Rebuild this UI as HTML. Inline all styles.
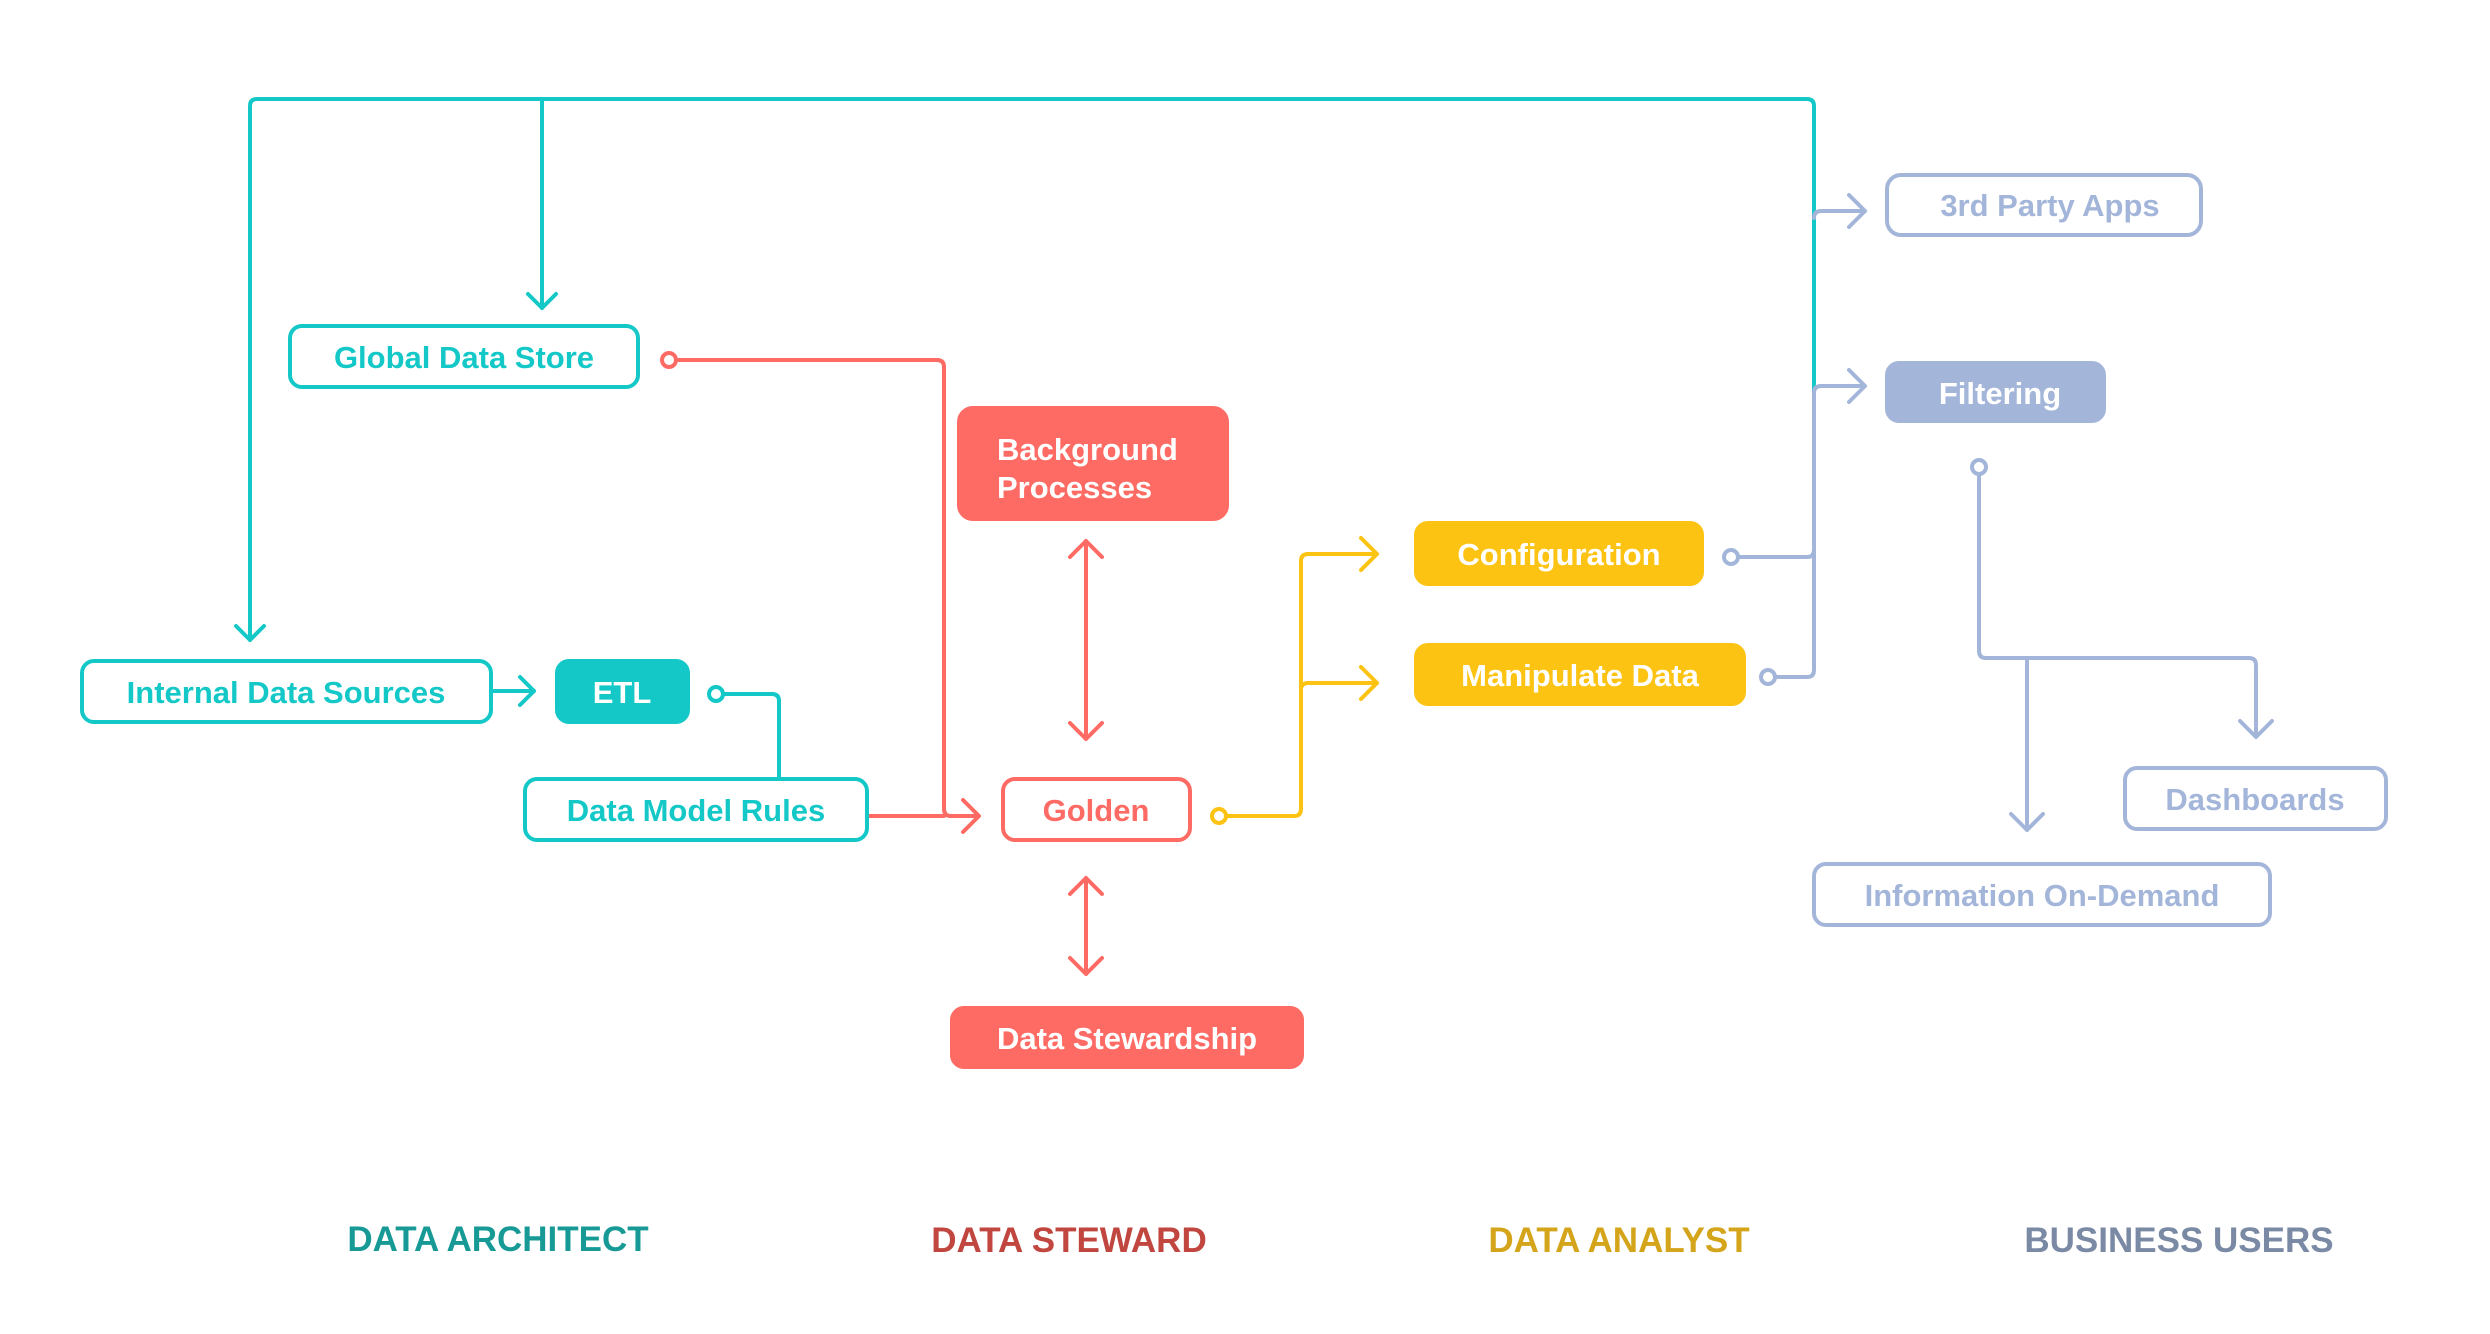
<!DOCTYPE html>
<html><head><meta charset="utf-8"><style>
html,body{margin:0;padding:0;background:#fff;}
svg{display:block}
text{font-family:"Liberation Sans",sans-serif;font-weight:bold;}
</style></head><body>
<svg width="2490" height="1334" viewBox="0 0 2490 1334" xmlns="http://www.w3.org/2000/svg">
<g fill="none" stroke-width="4" stroke-linecap="round" stroke-linejoin="round">
<!-- teal lines -->
<g stroke="#14c8c8">
<path d="M250 640 V106 Q250 99 257 99 H1807 Q1814 99 1814 106 V392"/>
<path d="M542 99 V308"/>
<path d="M528 294 L542 308 L556 294"/>
<path d="M236 626 L250 640 L264 626"/>
<path d="M491 691 H534 M520 677 L534 691 L520 705"/>
<path d="M725 694 H772 Q779 694 779 701 V779"/>
<circle cx="716" cy="694" r="7" fill="#fff"/>
</g>
<!-- red lines -->
<g stroke="#fe6b64">
<path d="M678 360 H937 Q944 360 944 367 V809 Q944 816 951 816 H977"/>
<path d="M867 816 H944"/>
<path d="M963 800 L979 816 L963 832"/>
<circle cx="669" cy="360" r="7" fill="#fff"/>
<path d="M1086 541 V739 M1070 557 L1086 541 L1102 557 M1070 723 L1086 739 L1102 723"/>
<path d="M1086 878 V974 M1070 894 L1086 878 L1102 894 M1070 958 L1086 974 L1102 958"/>
</g>
<!-- yellow lines -->
<g stroke="#fcc313">
<path d="M1228 816 H1294 Q1301 816 1301 809 V561 Q1301 554 1308 554 H1377"/>
<path d="M1301 690 Q1301 683 1308 683 H1377"/>
<path d="M1361 538 L1377 554 L1361 570 M1361 667 L1377 683 L1361 699"/>
<circle cx="1219" cy="816" r="7" fill="#fff"/>
</g>
<!-- blue-gray lines -->
<g stroke="#a3b6da">
<path d="M1814 392 V670 Q1814 677 1807 677 H1777"/>
<path d="M1740 557 H1807 Q1814 557 1814 550"/>
<circle cx="1731" cy="557" r="7" fill="#fff"/>
<circle cx="1768" cy="677" r="7" fill="#fff"/>
<path d="M1814 218 Q1814 211 1821 211 H1865 M1849 195 L1865 211 L1849 227"/>
<path d="M1814 393 Q1814 386 1821 386 H1865 M1849 370 L1865 386 L1849 402"/>
<path d="M1979 476 V651 Q1979 658 1986 658 H2249 Q2256 658 2256 665 V737 M2240 721 L2256 737 L2272 721"/>
<path d="M2027 658 V830 M2011 814 L2027 830 L2043 814"/>
<circle cx="1979" cy="467" r="7" fill="#fff"/>
</g>
</g>
<!-- boxes -->
<g stroke-width="4">
<rect x="290" y="326" width="348" height="61" rx="12" fill="#fff" stroke="#14c8c8"/>
<rect x="82" y="661" width="409" height="61" rx="12" fill="#fff" stroke="#14c8c8"/>
<rect x="557" y="661" width="131" height="61" rx="12" fill="#14c8c8" stroke="#14c8c8"/>
<rect x="525" y="779" width="342" height="61" rx="12" fill="#fff" stroke="#14c8c8"/>
<rect x="959" y="408" width="268" height="111" rx="14" fill="#fe6b64" stroke="#fe6b64"/>
<rect x="1003" y="779" width="187" height="61" rx="12" fill="#fff" stroke="#fe6b64"/>
<rect x="952" y="1008" width="350" height="59" rx="12" fill="#fe6b64" stroke="#fe6b64"/>
<rect x="1416" y="523" width="286" height="61" rx="12" fill="#fcc313" stroke="#fcc313"/>
<rect x="1416" y="645" width="328" height="59" rx="12" fill="#fcc313" stroke="#fcc313"/>
<rect x="1887" y="175" width="314" height="60" rx="14" fill="#fff" stroke="#a3b6da"/>
<rect x="1887" y="363" width="217" height="58" rx="12" fill="#a3b6da" stroke="#a3b6da"/>
<rect x="2125" y="768" width="261" height="61" rx="12" fill="#fff" stroke="#a3b6da"/>
<rect x="1814" y="864" width="456" height="61" rx="12" fill="#fff" stroke="#a3b6da"/>
</g>
<!-- text -->
<g font-size="31" text-anchor="middle">
<text x="464" y="368" fill="#14c8c8">Global Data Store</text>
<text x="286" y="703" fill="#14c8c8">Internal Data Sources</text>
<text x="622" y="703" fill="#fff">ETL</text>
<text x="696" y="821" fill="#14c8c8">Data Model Rules</text>
<text x="1096" y="821" fill="#fe6b64">Golden</text>
<text x="1127" y="1049" fill="#fff">Data Stewardship</text>
<text x="1559" y="565" fill="#fff">Configuration</text>
<text x="1580" y="686" fill="#fff">Manipulate Data</text>
<text x="2050" y="216" fill="#a3b6da">3rd Party Apps</text>
<text x="2000" y="404" fill="#fff">Filtering</text>
<text x="2255" y="810" fill="#a3b6da">Dashboards</text>
<text x="2042" y="906" fill="#a3b6da">Information On-Demand</text>
</g>
<g font-size="31" fill="#fff">
<text x="997" y="460">Background</text>
<text x="997" y="498">Processes</text>
</g>
<g font-size="35" text-anchor="middle">
<text x="498" y="1251" fill="#179a96">DATA ARCHITECT</text>
<text x="1069" y="1252" fill="#c0463f">DATA STEWARD</text>
<text x="1619" y="1252" fill="#d4a51b">DATA ANALYST</text>
<text x="2179" y="1252" fill="#7a8aa5">BUSINESS USERS</text>
</g>
</svg>
</body></html>
